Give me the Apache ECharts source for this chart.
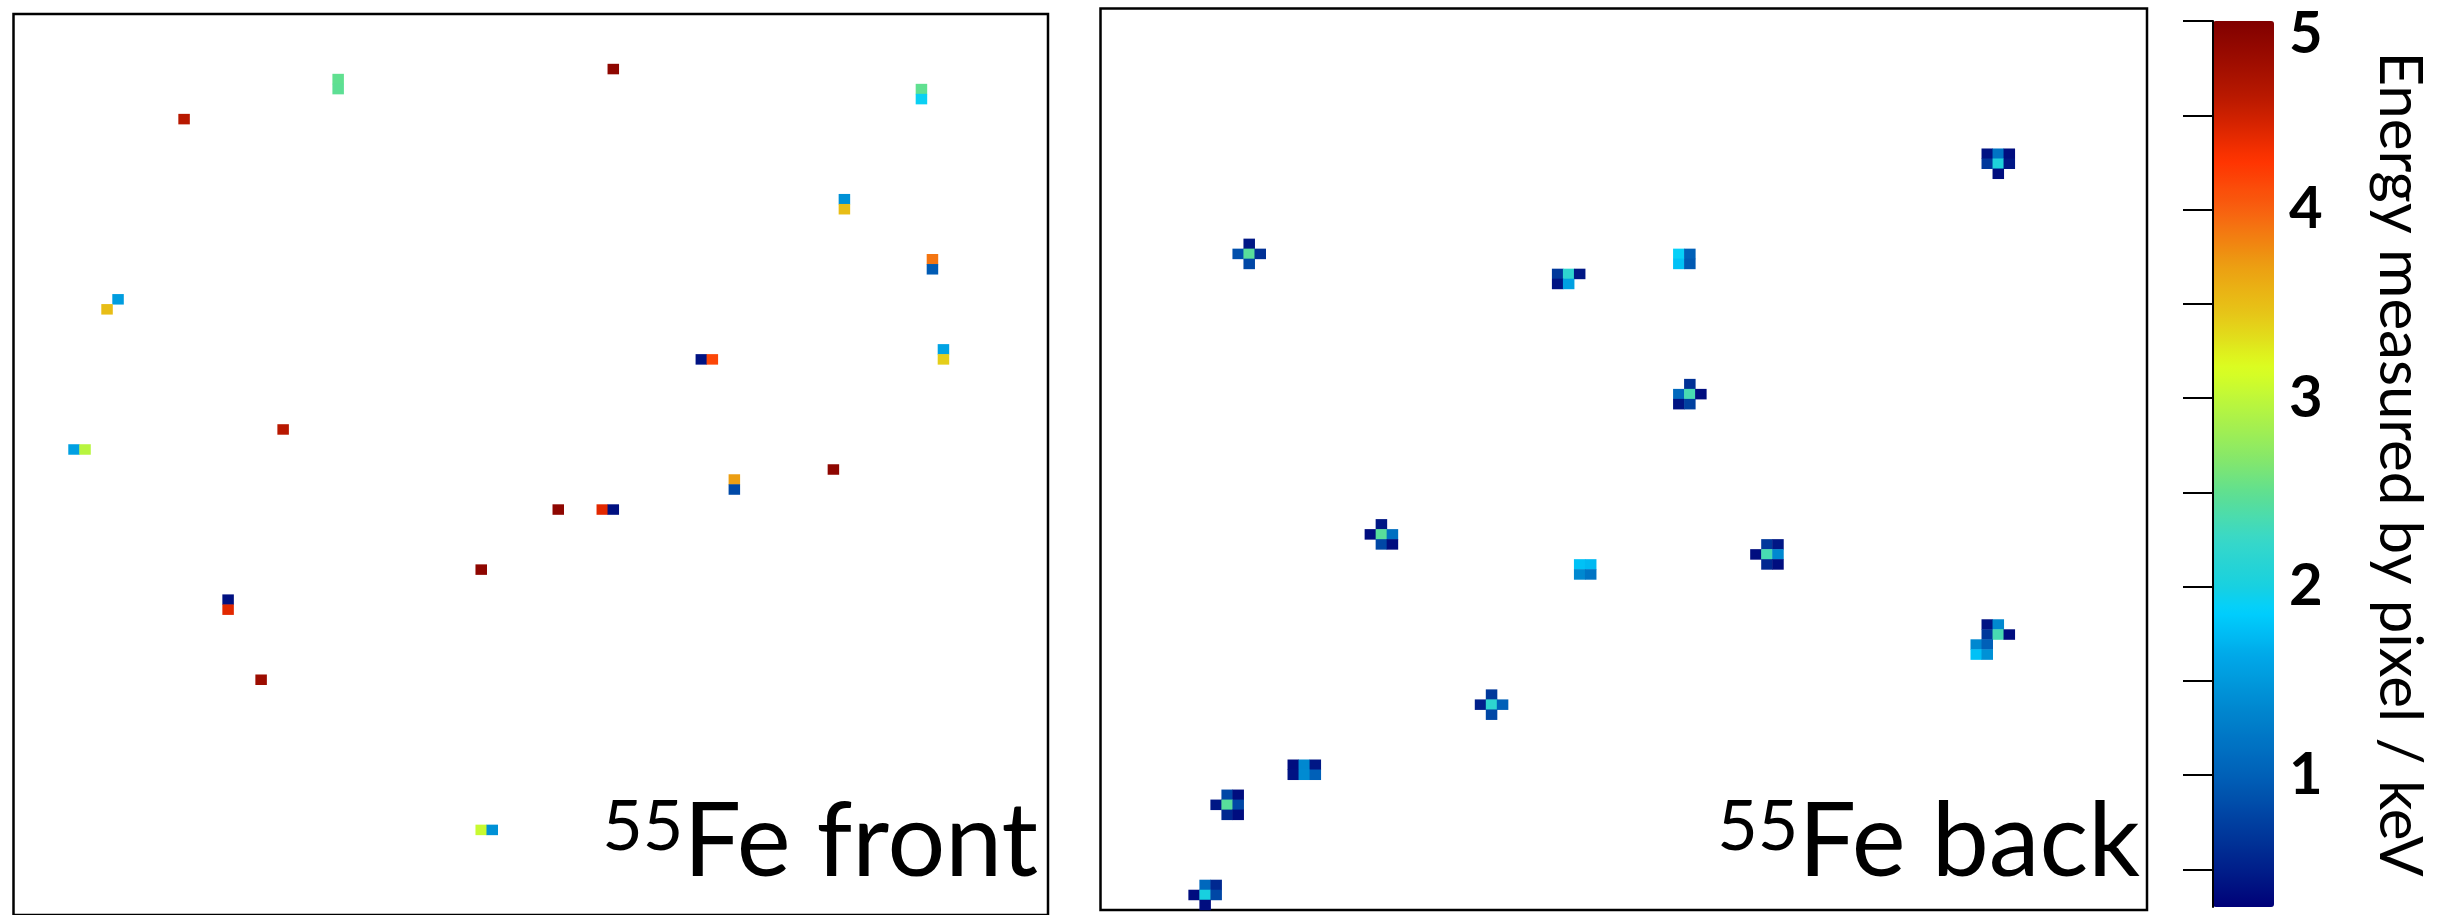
<!DOCTYPE html>
<html>
<head>
<meta charset="utf-8">
<script src="https://cdn.jsdelivr.net/npm/echarts@6/dist/echarts.min.js"></script>
<style>
  html, body { margin: 0; padding: 0; background: #fff; }
  #chart { width: 2454px; height: 915px; }
</style>
</head>
<body>
<div id="chart"></div>
<script>
// Front-side 55Fe hits: pixel column, pixel row (counted from the top), energy / keV
const frontCol = [29, 29, 15, 9, 8, 5, 6, 24, 54, 82, 82, 75, 75, 83, 83, 84, 84, 62, 63, 42, 19, 19, 22, 42, 43, 49, 53, 54, 65, 65, 74];
const frontRow = [6, 7, 10, 28, 29, 43, 43, 41, 5, 7, 8, 18, 19, 24, 25, 33, 34, 34, 34, 55, 58, 59, 66, 81, 81, 49, 49, 49, 46, 47, 45];
const frontE   = [2.5, 2.48, 4.6, 1.53, 3.5, 1.56, 2.96, 4.6, 4.9, 2.5, 1.92, 1.43, 3.5, 3.9, 0.96, 1.59, 3.4, 0.42, 4.15, 4.9, 0.4, 4.4, 4.8, 3.05, 1.43, 4.9, 4.4, 0.4, 3.7, 0.82, 4.9];

// Back-side 55Fe hits (charge shared over small clusters)
const backCol = [
  13, 12, 13, 14, 13,
  41, 42, 43, 41, 42,
  80, 81, 82, 80, 81, 82, 81,
  52, 53, 52, 53,
  53, 52, 53, 54, 52, 53,
  25, 24, 25, 26, 25, 26,
  43, 44, 43, 44,
  35, 34, 35, 36, 35,
  17, 18, 19, 17, 18, 19,
  11, 12, 10, 11, 12, 11, 12,
  9, 10, 8, 9, 10, 9,
  60, 61, 59, 60, 61, 60, 61,
  80, 81, 80, 81, 82, 79, 80, 79, 80
];
const backRow = [
  23, 24, 24, 24, 25,
  26, 26, 26, 27, 27,
  14, 14, 14, 15, 15, 15, 16,
  24, 24, 25, 25,
  37, 38, 38, 38, 39, 39,
  51, 52, 52, 52, 53, 53,
  55, 55, 56, 56,
  68, 69, 69, 69, 70,
  75, 75, 75, 76, 76, 76,
  78, 78, 79, 79, 79, 80, 80,
  87, 87, 88, 88, 88, 89,
  53, 53, 54, 54, 54, 55, 55,
  61, 61, 62, 62, 62, 63, 63, 64, 64
];
const backE = [
  0.45, 0.87, 2.45, 0.63, 0.81,
  0.69, 2.17, 0.45, 0.42, 1.56,
  0.42, 1.18, 0.38, 0.69, 2.05, 0.45, 0.38,
  1.9, 1.0, 1.78, 0.94,
  0.63, 1.07, 2.35, 0.38, 0.42, 0.75,
  0.45, 0.38, 2.45, 1.13, 0.81, 0.38,
  1.78, 1.73, 1.36, 1.18,
  0.69, 0.51, 2.17, 1.0, 0.81,
  0.38, 1.36, 0.45, 0.42, 1.38, 1.0,
  0.81, 0.38, 0.45, 2.45, 0.81, 0.57, 0.38,
  1.07, 0.57, 0.38, 2.0, 0.81, 0.38,
  0.69, 0.45, 0.38, 2.35, 1.36, 0.57, 0.38,
  0.42, 1.36, 0.69, 2.35, 0.38, 1.36, 1.0, 1.78, 1.43
];

// Sensor pixel matrix shown in each panel
const FRONT_COLS = 94;
const BACK_COLS = 95;
const N_ROWS = 90;

// Colour scale
const E_MIN = 0.3;
const E_MAX = 5;
const colorbarTicks = [0.5, 1, 1.5, 2, 2.5, 3, 3.5, 4, 4.5, 5];
const colorbarLabels = [1, 2, 3, 4, 5];
const paletteStops = [
  [0.30, '#000078'], [0.48, '#001c88'], [0.75, '#0040a0'], [1.00, '#0060b8'],
  [1.36, '#0088d0'], [1.63, '#00a8e8'], [1.87, '#00d0ff'], [2.00, '#18d0e0'],
  [2.25, '#38d8c8'], [2.50, '#60e090'], [2.69, '#88e868'], [3.16, '#dcff20'],
  [3.43, '#e6c818'], [3.69, '#eca012'], [4.00, '#f86010'], [4.26, '#ff3300'],
  [4.60, '#b81800'], [5.00, '#800000']
];

// Resample the palette anchors onto an evenly spaced list for the visualMap
function hexToRgb(h) { return [1, 3, 5].map(i => parseInt(h.slice(i, i + 2), 16)); }
function paletteAt(v) {
  for (let i = 1; i < paletteStops.length; i++) {
    const [v1, c1] = paletteStops[i];
    const [v0, c0] = paletteStops[i - 1];
    if (v <= v1) {
      const t = (v - v0) / (v1 - v0);
      const a = hexToRgb(c0), b = hexToRgb(c1);
      return 'rgb(' + a.map((x, k) => Math.round(x + (b[k] - x) * t)).join(',') + ')';
    }
  }
  return paletteStops[paletteStops.length - 1][1];
}
const N_COLORS = 95;
const paletteColors = [];
for (let i = 0; i < N_COLORS; i++) paletteColors.push(paletteAt(E_MIN + (E_MAX - E_MIN) * i / (N_COLORS - 1)));

const indexList = n => Array.from({ length: n }, (_, i) => i);
const frontData = frontCol.map((c, i) => [c, frontRow[i], frontE[i]]);
const backData = backCol.map((c, i) => [c, backRow[i], backE[i]]);

const FONT = 'Lato';
const panelLabel = (txt) => ({
  text: '{s|55}{m|' + txt + '}',
  align: 'right',
  verticalAlign: 'bottom',
  fill: '#000',
  rich: {
    s: { fontFamily: FONT, fontSize: 70, lineHeight: 62, verticalAlign: 'top', fill: '#000' },
    m: { fontFamily: FONT, fontSize: 102, lineHeight: 102, fill: '#000' }
  }
});

const option = {
  backgroundColor: '#fff',
  animation: false,
  grid: [
    { left: 13.5, top: 14, width: 1034.5, height: 904, show: true, borderColor: '#000', borderWidth: 2.5, backgroundColor: 'transparent' },
    { left: 1100.5, top: 8.5, width: 1046.5, height: 901.5, show: true, borderColor: '#000', borderWidth: 2.5, backgroundColor: 'transparent' },
    { left: 2213, top: 21, width: 61, height: 886, show: false }
  ],
  xAxis: [
    { type: 'category', gridIndex: 0, data: indexList(FRONT_COLS), show: false },
    { type: 'category', gridIndex: 1, data: indexList(BACK_COLS), show: false },
    { type: 'value', gridIndex: 2, min: 0, max: 1, show: false }
  ],
  yAxis: [
    { type: 'category', gridIndex: 0, data: indexList(N_ROWS), inverse: true, show: false },
    { type: 'category', gridIndex: 1, data: indexList(N_ROWS), inverse: true, show: false },
    {
      type: 'value', gridIndex: 2, min: E_MIN, max: E_MAX, position: 'right', z: 10,
      axisLine: { show: true, lineStyle: { color: '#000', width: 2 } },
      axisTick: { show: true, inside: true, length: 30, customValues: colorbarTicks, lineStyle: { color: '#000', width: 2 } },
      axisLabel: {
        show: true, customValues: colorbarLabels, margin: 15,
        fontFamily: FONT, fontWeight: 'bold', fontSize: 58, color: '#000',
        formatter: v => (v === E_MAX ? '{top|' + v + '}' : String(v)),
        rich: { top: { fontFamily: FONT, fontWeight: 'bold', fontSize: 58, color: '#000', padding: [26, 0, 0, 0] } }
      },
      splitLine: { show: false },
      name: 'Energy measured by pixel / keV',
      nameLocation: 'middle',
      nameRotate: -90,
      nameGap: 95,
      nameTextStyle: { fontFamily: FONT, fontSize: 60, color: '#000' }
    }
  ],
  visualMap: {
    type: 'continuous',
    min: E_MIN, max: E_MAX,
    seriesIndex: [0, 1],
    calculable: false,
    hoverLink: false,
    orient: 'vertical',
    left: 2213, top: 21,
    itemWidth: 61, itemHeight: 886,
    padding: 0,
    inRange: { color: paletteColors }
  },
  series: [
    { name: 'front', type: 'heatmap', xAxisIndex: 0, yAxisIndex: 0, data: frontData, emphasis: { disabled: true }, progressive: 0 },
    { name: 'back', type: 'heatmap', xAxisIndex: 1, yAxisIndex: 1, data: backData, emphasis: { disabled: true }, progressive: 0 }
  ],
  graphic: [
    { type: 'text', x: 1038, y: 894, z: 20, style: panelLabel('Fe front') },
    { type: 'text', x: 2140, y: 894, z: 20, style: panelLabel('Fe back') }
  ]
};

const chart = echarts.init(document.getElementById('chart'), null, { renderer: 'canvas' });
chart.setOption(option);
</script>
</body>
</html>
